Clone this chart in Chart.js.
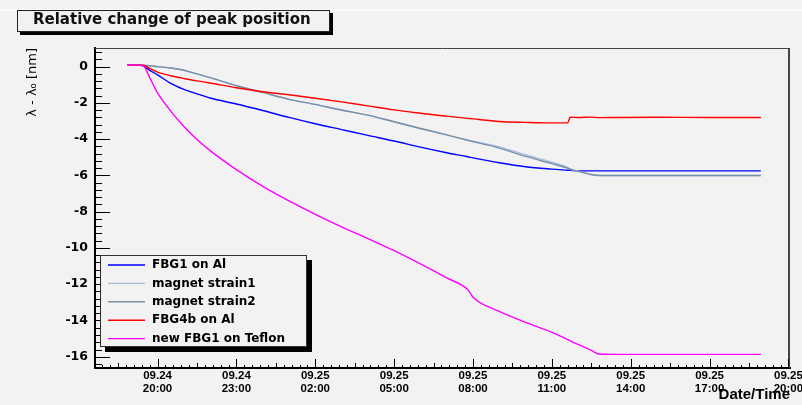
<!DOCTYPE html>
<html><head><meta charset="utf-8">
<script src="https://cdn.jsdelivr.net/npm/chart.js@4/dist/chart.umd.min.js"></script>
<style>html,body{margin:0;padding:0;background:#f2f2f2;}canvas{display:block;}</style>
</head><body>
<canvas id="c" width="802" height="405"></canvas>
<script>
const titleText = 'Relative change of peak position';
const yAxisTitle = 'λ - λ₀ [nm]';
const xAxisTitle = 'Date/Time';
// hours since 09.24 00:00
const timeHours = [18.85,19.45,19.7,20.0,20.5,21.0,21.5,22.0,23.0,24.0,25.0,26.0,27.0,28.0,29.0,30.0,31.0,31.8,32.0,33.0,34.0,35.0,35.6,35.7,36.0,36.5,36.8,37.5,39.0,41.0,42.95];
const fbg1Al = [0.1,0.05,-0.2,-0.45,-0.92,-1.25,-1.5,-1.73,-2.06,-2.42,-2.8,-3.15,-3.47,-3.79,-4.1,-4.44,-4.75,-4.97,-5.03,-5.3,-5.52,-5.65,-5.71,-5.72,-5.75,-5.75,-5.75,-5.75,-5.75,-5.75,-5.75];
const magnetStrain1 = [0.1,0.08,0.05,0.0,-0.07,-0.2,-0.4,-0.6,-1.05,-1.42,-1.8,-2.08,-2.39,-2.67,-3.04,-3.41,-3.76,-4.06,-4.13,-4.42,-4.86,-5.27,-5.55,-5.65,-5.77,-5.95,-6.0,-6.0,-6.0,-6.0,-6.0];
const magnetStrain2 = [0.1,0.08,0.05,0.0,-0.07,-0.2,-0.4,-0.6,-1.05,-1.42,-1.8,-2.08,-2.39,-2.67,-3.04,-3.41,-3.76,-4.06,-4.13,-4.49,-4.95,-5.35,-5.6,-5.65,-5.77,-5.95,-6.0,-6.0,-6.0,-6.0,-6.0];
const fbg4bAl = [0.1,0.08,-0.1,-0.3,-0.5,-0.65,-0.78,-0.9,-1.16,-1.38,-1.55,-1.74,-1.94,-2.16,-2.38,-2.57,-2.73,-2.85,-2.88,-3.02,-3.07,-3.1,-3.1,-2.79,-2.8,-2.78,-2.81,-2.8,-2.79,-2.8,-2.8];
const newFbg1Teflon = [0.1,0.05,-0.6,-1.45,-2.45,-3.3,-4.02,-4.63,-5.68,-6.6,-7.4,-8.14,-8.83,-9.48,-10.15,-10.88,-11.65,-12.3,-12.72,-13.5,-14.1,-14.66,-15.05,-15.12,-15.32,-15.65,-15.85,-15.87,-15.87,-15.87,-15.87];
const seriesNames = ['FBG1 on Al','magnet strain1','magnet strain2','FBG4b on Al','new FBG1 on Teflon'];
const seriesColors = ['#0000ff','#a4bbdc','#7890a8','#ff0000','#ff00ff'];
const xTickHours = [20,23,26,29,32,35,38,41,44];
const yTickValues = [0,-2,-4,-6,-8,-10,-12,-14,-16];
const xMin = 17.62, xMax = 44.06, yMin = -16.62, yMax = 1.03;

const allSeries = [fbg1Al, magnetStrain1, magnetStrain2, fbg4bAl, newFbg1Teflon];
const datasets = allSeries.map((arr, i) => ({
  label: seriesNames[i],
  data: timeHours.map((t, j) => ({x: t, y: arr[j]})),
  borderColor: seriesColors[i],
  borderWidth: 1.4,
  pointRadius: 0,
  cubicInterpolationMode: 'monotone',
  fill: false,
  order: 5 - i
}));

function fmtTick(h) {
  const day = h < 24 ? '09.24' : '09.25';
  const hh = Math.round(h) % 24;
  return [day, (hh < 10 ? '0' : '') + hh + ':00'];
}

const decor = {
  id: 'decor',
  afterLayout(chart) {
    if (chart.titleBlock) chart.titleBlock.left = 33;
  },
  beforeDraw(chart) {
    const ctx = chart.ctx;
    ctx.save();
    ctx.fillStyle = '#f2f2f2';
    ctx.fillRect(0, 0, chart.width, chart.height);
    ctx.fillStyle = '#fbfbfb';
    ctx.fillRect(0, 9, chart.width, 2);
    // title box with shadow
    ctx.fillStyle = '#000';
    ctx.fillRect(20, 13, 313, 22);
    ctx.fillStyle = '#f2f2f2';
    ctx.fillRect(17, 10, 313, 22);
    ctx.strokeStyle = '#222';
    ctx.lineWidth = 1;
    ctx.strokeRect(17.5, 10.5, 312, 21);
    ctx.restore();
  },
  afterDraw(chart) {
    const ctx = chart.ctx;
    const a = chart.chartArea;
    const xs = chart.scales.x, ys = chart.scales.y;
    ctx.save();
    // top and right frame
    ctx.strokeStyle = '#444';
    ctx.lineWidth = 1;
    ctx.beginPath(); ctx.moveTo(a.left, a.top + 0.5); ctx.lineTo(a.right, a.top + 0.5); ctx.stroke();
    ctx.lineWidth = 2;
    ctx.beginPath(); ctx.moveTo(a.right - 1, a.top); ctx.lineTo(a.right - 1, a.bottom); ctx.stroke();
    // inner ticks
    ctx.strokeStyle = '#000';
    ctx.lineWidth = 1;
    ctx.beginPath();
    for (let k = -60; k <= 10; k++) {
      const v = k * 0.4;
      if (v < yMin || v > yMax) continue;
      const y = Math.round(ys.getPixelForValue(v)) + 0.5;
      const len = (k % 5 === 0) ? 15 : 7;
      ctx.moveTo(a.left, y); ctx.lineTo(a.left + len, y);
    }
    for (let k = -10; k <= 90; k++) {
      const v = 20 + k * 0.3;
      if (v < xMin - 1e-6 || v > xMax + 1e-6) continue;
      const x = Math.round(xs.getPixelForValue(v)) + 0.5;
      const len = (k % 10 === 0) ? 9 : (k % 5 === 0 ? 5 : 3);
      ctx.moveTo(x, a.bottom); ctx.lineTo(x, a.bottom - len);
    }
    ctx.stroke();
    // x-axis title
    ctx.fillStyle = '#000';
    ctx.font = 'bold 15px "Liberation Sans", Arial, sans-serif';
    ctx.textAlign = 'right';
    ctx.textBaseline = 'middle';
    ctx.fillText(xAxisTitle, 790, 395);
    // legend
    const L = 100, T = 255, W = 207, H = 92;
    ctx.fillStyle = '#000';
    ctx.fillRect(L + 5, T + 5, W, H);
    ctx.fillStyle = '#f2f2f2';
    ctx.fillRect(L, T, W, H);
    ctx.strokeStyle = '#333';
    ctx.lineWidth = 1;
    ctx.strokeRect(L + 0.5, T + 0.5, W - 1, H - 1);
    ctx.font = 'bold 12px "DejaVu Sans", sans-serif';
    ctx.textAlign = 'left';
    seriesNames.forEach((name, i) => {
      const y = 265 + i * 18.4;
      ctx.strokeStyle = seriesColors[i];
      ctx.lineWidth = 1.4;
      ctx.beginPath(); ctx.moveTo(108, y); ctx.lineTo(145, y); ctx.stroke();
      ctx.fillStyle = '#000';
      ctx.fillText(name, 152, y);
    });
    ctx.restore();
  }
};

new Chart(document.getElementById('c'), {
  type: 'line',
  data: {datasets},
  plugins: [decor],
  options: {
    responsive: false,
    animation: false,
    devicePixelRatio: 1,
    layout: {padding: {left: 0, right: 12, top: 0, bottom: 0}},
    plugins: {
      legend: {display: false},
      tooltip: {enabled: false},
      title: {
        display: true,
        text: titleText,
        align: 'start',
        color: '#111',
        font: {family: '"DejaVu Sans", sans-serif', size: 15, weight: 'bold', lineHeight: 1.2},
        padding: {top: 11, bottom: 19}
      }
    },
    scales: {
      x: {
        type: 'linear',
        min: xMin, max: xMax,
        afterBuildTicks: s => { s.ticks = xTickHours.map(v => ({value: v})); },
        afterFit: s => { s.height = 37; s.paddingLeft = 0; s.paddingRight = 0; },
        ticks: {
          autoSkip: false, maxRotation: 0, minRotation: 0, padding: 2,
          color: '#000',
          font: {family: '"Liberation Sans", Arial, sans-serif', size: 11.5, weight: 'bold', lineHeight: 1.1},
          callback: v => fmtTick(v)
        },
        grid: {display: false, drawTicks: false},
        border: {display: true, color: '#000', width: 2}
      },
      y: {
        type: 'linear',
        min: yMin, max: yMax,
        afterBuildTicks: s => { s.ticks = yTickValues.map(v => ({value: v})); },
        afterFit: s => { s.width = 95; s.paddingTop = 0; s.paddingBottom = 0; },
        ticks: {
          autoSkip: false, padding: 7, color: '#000',
          font: {family: '"DejaVu Sans", sans-serif', size: 12.5, weight: 'bold'},
          callback: v => String(v)
        },
        grid: {display: false, drawTicks: false},
        border: {display: true, color: '#000', width: 2},
        title: {
          display: true, text: yAxisTitle, align: 'end', color: '#000',
          font: {family: '"DejaVu Sans", sans-serif', size: 13, lineHeight: 1.2},
          padding: {top: 25, bottom: 0}
        }
      }
    }
  }
});
</script>
</body></html>
